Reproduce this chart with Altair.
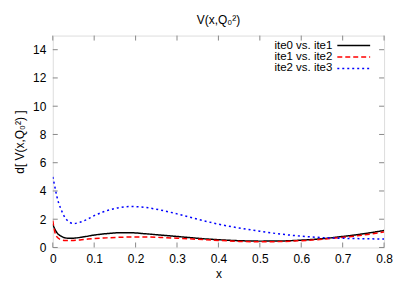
import altair as alt
import pandas as pd

xs = [0, 0.005, 0.01, 0.02, 0.03, 0.04, 0.05, 0.08, 0.1, 0.13, 0.16, 0.19, 0.22, 0.26, 0.3, 0.35, 0.4, 0.45, 0.5, 0.55, 0.6, 0.65, 0.7, 0.75, 0.8]
black = [1.65, 1.3, 1.05, 0.8, 0.68, 0.65, 0.66, 0.78, 0.88, 0.98, 1.04, 1.04, 0.98, 0.88, 0.78, 0.65, 0.55, 0.48, 0.45, 0.46, 0.52, 0.62, 0.78, 0.97, 1.2]
red = [1.9, 1.1, 0.75, 0.55, 0.5, 0.5, 0.5, 0.58, 0.63, 0.68, 0.72, 0.74, 0.74, 0.71, 0.66, 0.58, 0.5, 0.43, 0.4, 0.42, 0.48, 0.58, 0.72, 0.88, 1.1]
blue = [5.0, 4.3, 3.6, 2.7, 2.1, 1.8, 1.7, 1.95, 2.25, 2.6, 2.82, 2.9, 2.85, 2.65, 2.38, 2.0, 1.65, 1.38, 1.15, 0.95, 0.8, 0.7, 0.65, 0.62, 0.6]
names = ["ite0 vs. ite1", "ite1 vs. ite2", "ite2 vs. ite3"]
colors = ["#000000", "#ff0000", "#0000ff"]
dashes = [[1, 0], [5, 3], [2, 3]]
x_ticks = [0, 0.1, 0.2, 0.3, 0.4, 0.5, 0.6, 0.7, 0.8]
y_ticks = [0, 2, 4, 6, 8, 10, 12, 14]

W, H = 333, 213
FONT = "Liberation Sans"
FS = 12

xsc = alt.Scale(domain=[0, 0.8], nice=False, zero=False)
ysc = alt.Scale(domain=[0, 15], nice=False)

common = dict(tickSize=0, grid=False, domain=False, labelFont=FONT, titleFont=FONT, labelFontSize=FS,
              titleFontSize=FS, titleFontWeight="normal", labelColor="#000", titleColor="#000",
              labelOverlap=False, labelBound=False, labelFlush=False)
xaxis = alt.Axis(values=x_ticks, format=".1f", labelExpr="datum.value == 0 ? '0' : datum.label", title="x", labelPadding=6, titlePadding=4, **common)
yaxis = alt.Axis(values=y_ticks, title="d[ V(x,Q₀²) ]", labelPadding=7, titlePadding=6, **common)

layers = []
for i, (name, vals) in enumerate(zip(names, [black, red, blue])):
    df = pd.DataFrame({"x": xs, "y": vals, "s": name})
    layers.append(
        alt.Chart(df).mark_line(color=colors[i], strokeDash=dashes[i], strokeWidth=1.5, interpolate="monotone", clip=True).encode(
            x=alt.X("x:Q", scale=xsc, axis=xaxis),
            y=alt.Y("y:Q", scale=ysc, axis=yaxis),
        )
    )

xt = pd.DataFrame({"x": x_ticks})
yt = pd.DataFrame({"y": y_ticks})
tk = "#888888"
layers.append(alt.Chart(xt).mark_rule(color=tk).encode(x=alt.X("x:Q", scale=xsc, axis=xaxis), y=alt.value(H), y2=alt.value(H - 5)))
layers.append(alt.Chart(xt).mark_rule(color=tk).encode(x=alt.X("x:Q", scale=xsc, axis=xaxis), y=alt.value(0), y2=alt.value(5)))
layers.append(alt.Chart(yt).mark_rule(color=tk).encode(y=alt.Y("y:Q", scale=ysc, axis=yaxis), x=alt.value(0), x2=alt.value(5)))
layers.append(alt.Chart(yt).mark_rule(color=tk).encode(y=alt.Y("y:Q", scale=ysc, axis=yaxis), x=alt.value(W), x2=alt.value(W - 5)))

leg = pd.DataFrame({"name": names, "row": [0, 1, 2]})
for i in range(3):
    d = leg.iloc[[i]]
    yy = 10 + 11.5 * i
    layers.append(alt.Chart(d).mark_text(align="right", baseline="middle", font=FONT, fontSize=11.5, color="#000").encode(
        text="name:N", x=alt.value(281), y=alt.value(yy)))
    layers.append(alt.Chart(d).mark_rule(color=colors[i], strokeDash=dashes[i], strokeWidth=1.5).encode(
        x=alt.value(286), x2=alt.value(319), y=alt.value(yy)))

chart = alt.layer(*layers).properties(
    width=W, height=H,
    title=alt.TitleParams("V(x,Q₀²)", font=FONT, fontSize=FS, fontWeight="normal", color="#000", offset=8),
).configure_view(stroke="#000", strokeWidth=1).configure(background="white")

chart.save("out.html", embed_options={"renderer": "svg", "actions": False})
